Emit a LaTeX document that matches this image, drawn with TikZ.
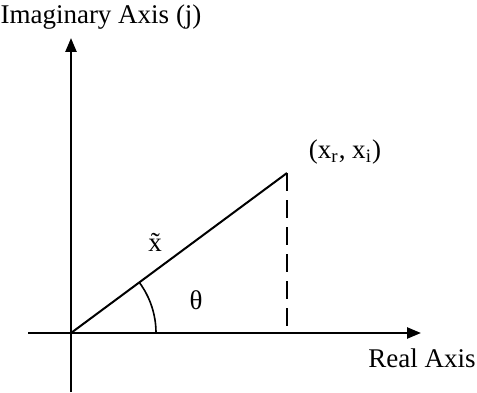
\documentclass[tikz,border=0pt]{standalone}
\usepackage{fontspec}
\setmainfont{Liberation Serif}
\usetikzlibrary{arrows.meta, calc}

\tikzset{
  axis/.style={line width=1.2pt, -{Triangle[length=7pt, width=5.5pt]}},
  vec/.style={line width=1pt},
  lbl/.style={inner sep=1pt, font=\fontsize{13.5}{15}\selectfont}
}

\begin{document}
\begin{tikzpicture}[x=0.5pt, y=0.5pt]
  \useasboundingbox (0,0) rectangle (477,392);
  % axes
  \coordinate (O) at (71,59);
  \coordinate (imtop) at (71,354);
  \coordinate (imbot) at (71,0);
  \coordinate (releft) at (28,59);
  \coordinate (reright) at (421,59);
  \draw[axis] (imbot) -- (imtop);
  \draw[axis] (releft) -- (reright);
  \node[lbl] (imlabel) at (101,375) {Imaginary Axis (j)};
  \node[lbl] (relabel) at (422,34) {Real Axis};
  % phasor and its projection
  \coordinate (P) at (287,219);
  \coordinate (Pfoot) at (287,59);
  \draw[vec] (O) -- (P);
  \draw[vec, dash pattern=on 9pt off 4.5pt] (P) -- (Pfoot);
  \node[lbl] (plabel) at (345,240) {(x\textsubscript{r}, x\textsubscript{i})};
  \node[lbl] (xlabel) at (155,150) {\~{x}};
  % angle
  \draw[line width=0.8pt] ($(O)+(85,0)$) arc[start angle=0, end angle=36.5, radius=85];
  \node[lbl] (thlabel) at (196,92) {θ};
\end{tikzpicture}
\end{document}
